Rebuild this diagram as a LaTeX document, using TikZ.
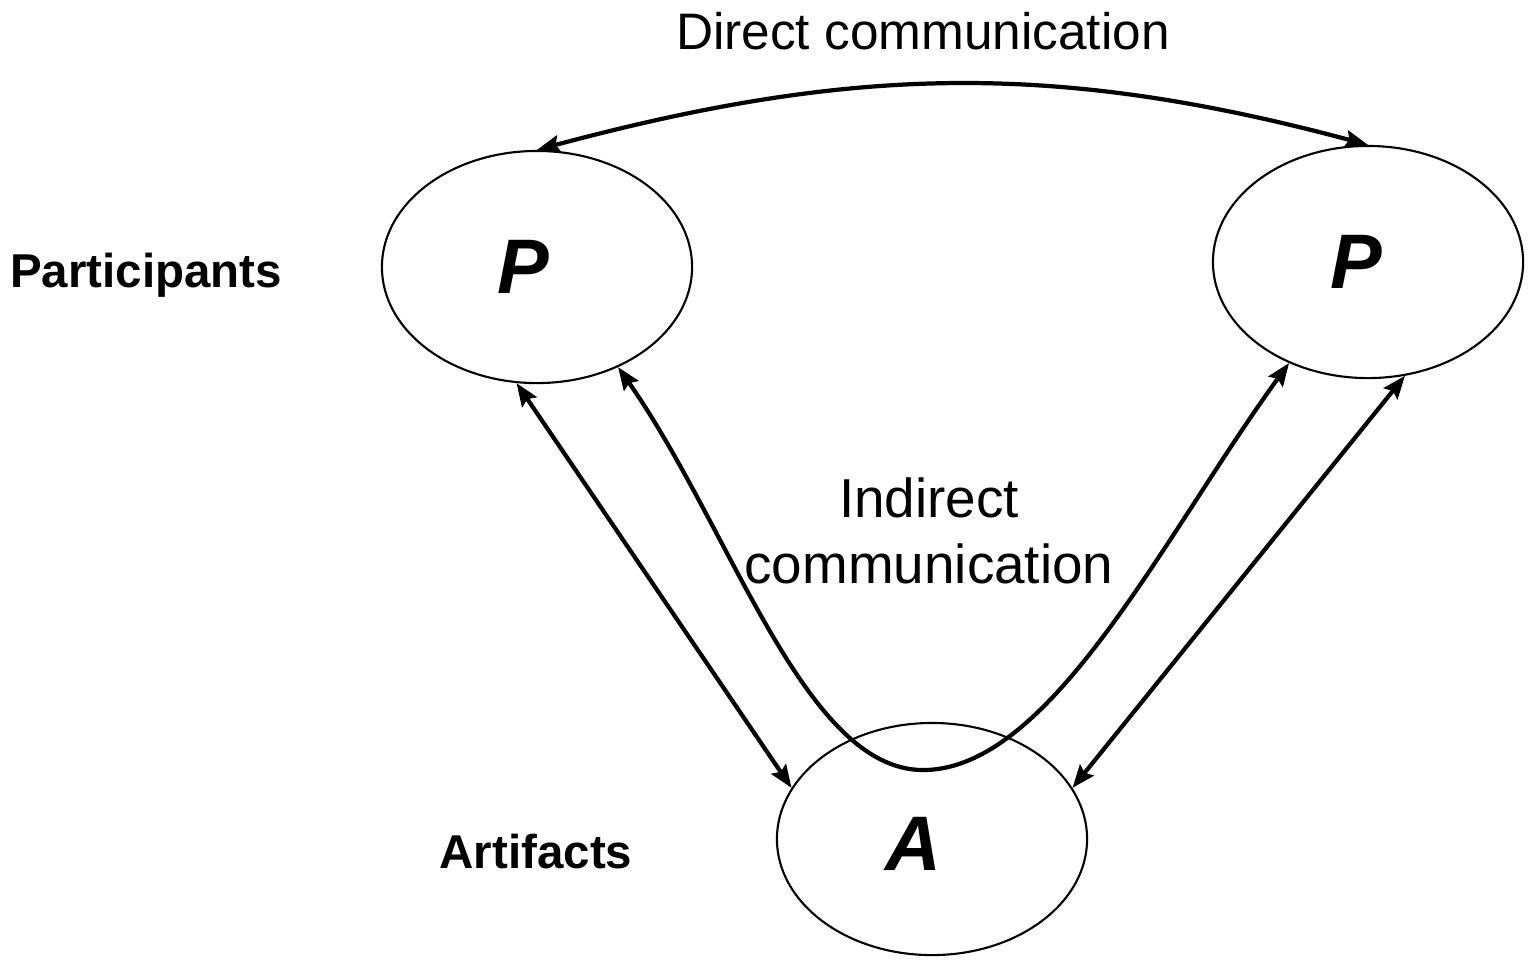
\documentclass[tikz,border=0pt]{standalone}
\usepackage{fontspec}
\setmainfont{Liberation Sans}
\usetikzlibrary{shapes.geometric,arrows.meta}

\begin{document}
\begin{tikzpicture} [x=0.01cm, y=-0.01cm,
 role/.style = {shape=ellipse, draw, line width=0.6pt, inner sep=0pt,
 minimum width=3.1cm, minimum height=2.32cm},
 letter/.style = {anchor=base, font=\fontsize{22}{26}\selectfont\bfseries\itshape},
 side/.style = {anchor=base, font=\fontsize{13.5}{16}\selectfont\bfseries},
 link/.style = {line width=1.2pt, <->,
 >={Stealth[length=6.5pt, width=5pt, inset=1pt]}}]
 \useasboundingbox (0,0) rectangle (1528,959);

 \node (pl) [role] at (537,267) {};
 \node (pr) [role] at (1368,262) {};
 \node (art) [role] at (932,839) {};
 \node (pltext) [letter] at (523,293) {P};
 \node (prtext) [letter] at (1356,288) {P};
 \node (arttext) [letter] at (913,870) {A};

 \node (participants) [side] at (146,287) {Participants};
 \node (artifacts) [side] at (536,868) {Artifacts};
 \node (direct) [anchor=base, font=\fontsize{14.6}{17}\selectfont] at (923,49)
 {Direct communication};
 \node (indirect) [anchor=base, align=center,
 font=\fontsize{15.6}{18.5}\selectfont] at (929,583)
 {Indirect\\communication};

 \coordinate (dip) at (923,770);
 \draw [link] (pl.north) to [out=15, in=165] (pr.north);
 \draw [link] (pl.260) -- (art.160);
 \draw [link] (pr.288) -- (art.20);
 \draw [link] (pl.309) to [out=-55, in=180, in looseness=0.6] (dip)
 to [out=0, in=234, out looseness=0.6] (pr.232);
\end{tikzpicture}
\end{document}
